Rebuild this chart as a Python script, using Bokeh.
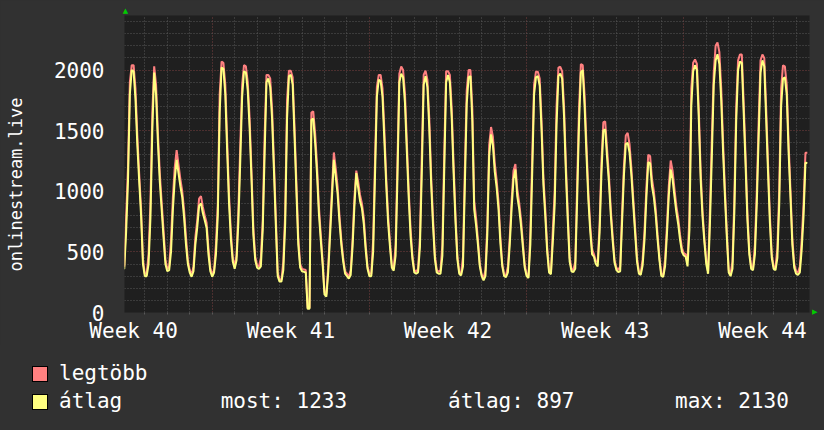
from bokeh.plotting import figure
from bokeh.models import FixedTicker, Range1d, Title, Div
from bokeh.layouts import column
from bokeh.embed import file_html
from bokeh.resources import INLINE

# ---------------- data (2-hour samples, days counted from Monday of week 40) -------------
first_day = 3          # Thursday of week 40
step_hours = 2
week_labels = ["Week 40", "Week 41", "Week 42", "Week 43", "Week 44"]
week_label_pos = [3.5, 10.5, 17.5, 24.5, 31.5]
week_starts = [7, 14, 21, 28]

avg_w40 = [370, 360, 660, 1080, 1800, 2000, 1990, 1760, 1380, 1080, 800, 400,
           300, 300, 400, 780, 1500, 1980, 1800, 1400, 1080, 850, 620, 400,
           340, 350, 500, 850, 1100, 1260, 1150, 1040, 950, 780, 560, 400,
           330, 295, 340, 560, 700, 880, 900, 820, 760, 700, 480, 340]
avg_w41 = [295, 330, 480, 800, 1650, 2020, 2010, 1800, 1330, 900, 600, 420,
           360, 430, 750, 1250, 1780, 1990, 1980, 1830, 1520, 1100, 640, 430,
           370, 360, 380, 680, 1300, 1900, 1930, 1860, 1600, 1170, 720, 300,
           255, 255, 350, 730, 1600, 1950, 1960, 1880, 1450, 1000, 560, 370,
           340, 335, 330, 30, 30, 1590, 1600, 1400, 1150, 820, 600, 400,
           150, 130, 330, 640, 950, 1260, 1120, 980, 750, 560, 420, 320,
           300, 280, 310, 540, 880, 1150, 1030, 920, 860, 730, 520, 360]
avg_w42 = [300, 300, 500, 1130, 1780, 1920, 1910, 1780, 1420, 1050, 740, 540,
           370, 345, 470, 1120, 1900, 1970, 1940, 1730, 1330, 950, 630, 440,
           330, 320, 330, 540, 1150, 1880, 1950, 1860, 1520, 1060, 720, 440,
           330, 320, 320, 470, 1180, 1900, 1960, 1900, 1600, 1150, 750, 440,
           320, 306, 380, 1050, 1720, 1940, 1950, 1580, 850, 720, 560, 380,
           300, 265, 300, 640, 1290, 1470, 1380, 1160, 1030, 850, 570, 380,
           300, 292, 330, 560, 860, 1100, 1180, 960, 860, 720, 540, 370]
avg_w43 = [300, 285, 560, 1150, 1800, 1940, 1950, 1870, 1500, 1050, 790, 500,
           330, 315, 580, 890, 1550, 1950, 1970, 1930, 1620, 1150, 760, 420,
           340, 333, 361, 930, 1550, 1980, 2000, 1700, 1300, 930, 670, 480,
           460, 400, 380, 660, 1150, 1500, 1510, 1280, 1070, 800, 590, 410,
           350, 333, 340, 740, 1130, 1390, 1400, 1320, 1130, 890, 650, 420,
           320, 310, 390, 600, 950, 1240, 1230, 1040, 950, 800, 600, 430,
           300, 295, 380, 650, 970, 1180, 1100, 960, 830, 730, 600, 500]
avg_w44 = [470, 460, 380, 680, 1700, 1990, 2040, 2000, 1600, 1100, 790, 580,
           400, 320, 750, 1300, 1880, 2080, 2130, 2050, 1750, 1320, 950, 620,
           330, 300, 360, 825, 1580, 2000, 2070, 2060, 1645, 1220, 760, 480,
           360, 350, 480, 900, 1450, 1980, 2080, 2030, 1600, 1160, 740, 450,
           360, 350, 450, 900, 1700, 1930, 1940, 1800, 1320, 950, 560, 370,
           320, 310, 330, 520, 800, 1235, 1233]

max_w40 = [390, 380, 780, 1200, 1900, 2040, 2040, 1850, 1460, 1140, 860, 440,
           320, 320, 480, 900, 1650, 2030, 1880, 1480, 1150, 910, 680, 440,
           360, 380, 600, 950, 1200, 1340, 1220, 1100, 1000, 840, 620, 430,
           350, 310, 380, 620, 760, 940, 960, 870, 800, 740, 530, 370]
max_w41 = [310, 350, 560, 900, 1800, 2070, 2060, 1880, 1420, 970, 660, 450,
           380, 470, 850, 1380, 1880, 2040, 2030, 1900, 1600, 1170, 700, 460,
           390, 380, 450, 760, 1450, 1960, 1960, 1930, 1680, 1240, 790, 330,
           270, 270, 420, 820, 1750, 1995, 1995, 1940, 1530, 1070, 620, 400,
           360, 355, 350, 40, 40, 1650, 1660, 1480, 1220, 880, 650, 430,
           170, 150, 380, 700, 1020, 1320, 1190, 1040, 800, 600, 450, 340,
           320, 295, 350, 600, 950, 1170, 1080, 970, 900, 780, 560, 380]
max_w42 = [320, 320, 600, 1250, 1860, 1960, 1960, 1850, 1500, 1110, 800, 580,
           390, 365, 560, 1250, 1970, 2030, 2000, 1810, 1410, 1010, 690, 470,
           350, 335, 360, 620, 1300, 1960, 1995, 1920, 1600, 1130, 780, 470,
           350, 335, 350, 560, 1320, 1990, 1990, 1960, 1680, 1220, 810, 470,
           335, 320, 460, 1180, 1830, 2000, 2000, 1680, 920, 780, 600, 400,
           315, 280, 350, 720, 1380, 1530, 1450, 1230, 1090, 910, 620, 400,
           315, 305, 380, 620, 930, 1170, 1224, 1020, 910, 770, 580, 390]
max_w43 = [315, 300, 660, 1280, 1880, 1986, 1986, 1930, 1580, 1110, 850, 540,
           350, 330, 680, 1000, 1700, 2020, 2027, 1990, 1700, 1220, 820, 450,
           360, 350, 420, 1050, 1680, 2049, 2040, 1790, 1380, 990, 720, 520,
           480, 420, 420, 730, 1250, 1570, 1576, 1350, 1130, 850, 630, 430,
           370, 350, 380, 820, 1210, 1460, 1481, 1390, 1190, 940, 700, 450,
           340, 325, 440, 670, 1030, 1300, 1290, 1100, 1000, 850, 640, 450,
           315, 310, 440, 720, 1050, 1254, 1170, 1020, 880, 780, 640, 530]
max_w44 = [490, 480, 430, 800, 1850, 2060, 2087, 2050, 1680, 1170, 840, 610,
           430, 340, 870, 1450, 1980, 2200, 2227, 2150, 1850, 1400, 1010, 660,
           350, 320, 420, 930, 1700, 2080, 2128, 2128, 1730, 1290, 820, 510,
           380, 370, 560, 1000, 1580, 2080, 2128, 2100, 1690, 1230, 800, 480,
           380, 370, 530, 1020, 1850, 2038, 2030, 1880, 1400, 1010, 610, 400,
           340, 330, 380, 600, 900, 1317, 1317]

stat_now = "1233"
stat_avg = "897"
stat_max = "2130"
series_names = ["legtöbb", "átlag"]
y_title = "onlinestream.live"

# ---------------- styling ----------------
BG = "#313131"
PLOT_BG = "#1f1f1f"
GRID = "#595959"
MGRID = "#7a4040"
MAX_COLOR = "#ff8080"
AVG_COLOR = "#ffff80"
ARROW = "#00cc00"
FONT = "DejaVu Sans Mono"

series_avg = avg_w40 + avg_w41 + avg_w42 + avg_w43 + avg_w44
series_max = max_w40 + max_w41 + max_w42 + max_w43 + max_w44
xs = [first_day + i * step_hours / 24 for i in range(len(series_avg))]

W = 824
PH, LH = 345, 85                              # chart canvas / legend strip heights
FL, FR, FT, FB = 124, 809, 15, 315           # plot frame in canvas pixels
X0, X1 = 3.095, 33.597
Y0, Y1 = 0, 2450

p = figure(width=W, height=PH, output_backend="svg", toolbar_location=None,
           x_range=Range1d(X0, X1), y_range=Range1d(Y0, Y1),
           min_border_left=FL, min_border_right=W - FR, min_border_top=FT,
           min_border_bottom=PH - FB)
p.background_fill_color = PLOT_BG
p.border_fill_color = BG
p.outline_line_color = None

# grids
day_ticks = [d for d in range(4, 34) if d not in week_starts]
p.xgrid.ticker = FixedTicker(ticks=week_starts, minor_ticks=day_ticks)
p.xgrid.grid_line_color = MGRID
p.xgrid.grid_line_dash = "1 2"
p.xgrid.minor_grid_line_color = GRID
p.xgrid.minor_grid_line_dash = "1 2"

y_major = [0, 500, 1000, 1500, 2000]
y_minor = [v for v in range(100, 2500, 100) if v % 500]
p.ygrid.ticker = FixedTicker(ticks=y_major[1:], minor_ticks=y_minor)
p.ygrid.grid_line_color = MGRID
p.ygrid.grid_line_dash = "1 2"
p.ygrid.minor_grid_line_color = GRID
p.ygrid.minor_grid_line_dash = "1 2"

# data lines
p.line(xs, series_max, line_color=MAX_COLOR, line_width=2)
p.line(xs, series_avg, line_color=AVG_COLOR, line_width=2)

# axes
xa = p.xaxis[0]
xa.ticker = FixedTicker(ticks=week_label_pos, minor_ticks=list(range(4, 34)))
xa.major_label_overrides = {t: lab for t, lab in zip(week_label_pos, week_labels)}
xa.major_tick_line_color = None
xa.major_tick_out = 0
xa.major_tick_in = 0
xa.minor_tick_out = 2
xa.minor_tick_in = 0
xa.minor_tick_line_color = GRID
xa.axis_line_color = None
xa.major_label_standoff = 4
xa.major_label_text_font = FONT
xa.major_label_text_font_size = "21px"
xa.major_label_text_color = "#ffffff"

ya = p.yaxis[0]
ya.ticker = FixedTicker(ticks=y_major, minor_ticks=y_minor)
ya.major_tick_line_color = None
ya.minor_tick_line_color = None
ya.major_tick_out = 0
ya.major_tick_in = 0
ya.axis_line_color = None
ya.major_label_standoff = 16
ya.major_label_text_font = FONT
ya.major_label_text_font_size = "21px"
ya.major_label_text_color = "#ffffff"
ya.axis_label = y_title + "\u00a0" * 4
ya.axis_label_text_font = FONT
ya.axis_label_text_font_size = "17px"
ya.axis_label_text_font_style = "normal"
ya.axis_label_text_color = "#ffffff"
ya.axis_label_standoff = 25

# small green arrows at the axis ends (side-panel titles are not clipped)
p.add_layout(Title(text="\u25b2", align="left", offset=-1.7, standoff=0,
                   vertical_align="middle", text_color=ARROW, text_font="DejaVu Sans",
                   text_font_size="7px", text_font_style="normal"), "above")
p.add_layout(Title(text="\u25b2", align="right", offset=-2.3, standoff=0,
                   vertical_align="middle", text_color=ARROW, text_font="DejaVu Sans",
                   text_font_size="7px", text_font_style="normal"), "right")

# ---------------- legend strip (below the chart) ----------------
ASC = 19.5   # ascent of DejaVu Sans Mono at 21px, to place baselines


def box(left, top, color):
    return ('<div style="position:absolute;box-sizing:border-box;left:%.1fpx;top:%.1fpx;'
            'width:16px;height:16px;border:1px solid #000;background:%s;"></div>'
            % (left, top - PH, color))


def txt(left, baseline, s):
    return ('<span style="position:absolute;left:%.1fpx;top:%.1fpx;line-height:normal;'
            'white-space:pre;">%s</span>' % (left, baseline - ASC - PH, s))


legend_html = (
    '<div style="position:relative;width:%dpx;height:%dpx;background:%s;color:#ffffff;'
    'font-family:\'%s\';font-size:21px;">' % (W, LH, BG, FONT)
    + box(31.7, 365.7, MAX_COLOR)
    + box(31.7, 394.3, AVG_COLOR)
    + txt(59, 380.7, series_names[0])
    + txt(59, 408.3, series_names[1])
    + txt(220.7, 408.3, "most: " + stat_now)
    + txt(448, 408.3, "átlag: " + stat_avg)
    + txt(675, 408.3, "max: " + stat_max)
    + '</div>')
legend = Div(text=legend_html, width=W, height=LH, margin=0,
             styles={"background-color": BG})

layout = column(p, legend, spacing=0, styles={"background-color": BG})
html = file_html(layout, INLINE)
page_css = "<style>html, body { background-color: %s !important; }</style>" % BG
html = html.replace("</head>", page_css + "</head>", 1)
open("out.html", "w").write(html)
